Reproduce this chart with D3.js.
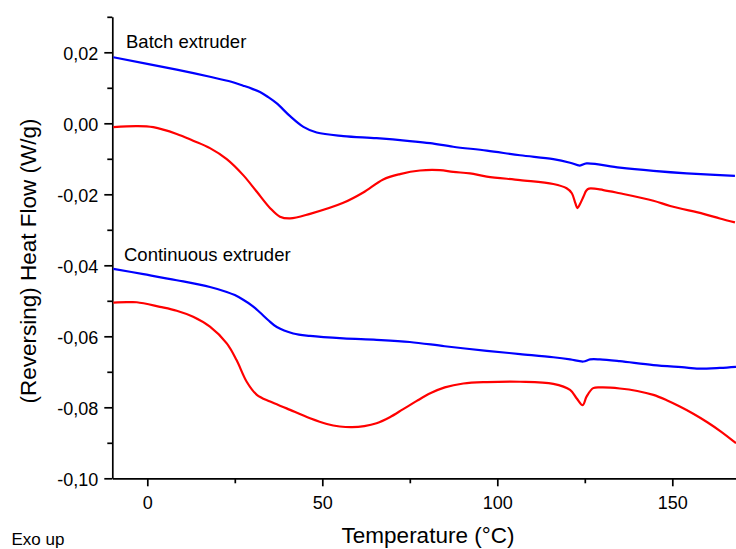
<!DOCTYPE html>
<html>
<head>
<meta charset="utf-8">
<script src="https://cdn.jsdelivr.net/npm/d3@7"></script>
<style>
  html, body { margin: 0; padding: 0; background: #fff; }
  svg { display: block; font-family: "Liberation Sans", Arial, sans-serif; }
</style>
</head>
<body>
<svg id="chart" width="736" height="549"></svg>
<script>
// ---- Data ----
const batchBlueT  = [-9.7, 8.4, 17.9, 24.0, 27.4, 30.0, 32.2, 34.5, 37.0, 40.8, 44.6, 48.4, 56.0, 65.5, 75.0, 80.8, 87.4, 97.0, 106.5, 116.0, 120.8, 123.6, 125.5, 135.0, 144.6, 154.1, 167.9];
const batchBlueHF = [0.0186, 0.0151, 0.0131, 0.0117, 0.0106, 0.0097, 0.0088, 0.0074, 0.0056, 0.0020, -0.0010, -0.0026, -0.0036, -0.0042, -0.0050, -0.0056, -0.0066, -0.0077, -0.0090, -0.0101, -0.0111, -0.0119, -0.0113, -0.0125, -0.0134, -0.0141, -0.0148];

const batchRedT  = [-9.7, -3.0, 1.7, 8.4, 13.1, 17.9, 22.7, 27.4, 31.3, 35.1, 37.9, 40.8, 46.5, 56.0, 61.7, 67.4, 72.2, 77.9, 83.6, 87.4, 92.2, 97.0, 106.5, 116.0, 119.8, 121.3, 122.3, 122.9, 123.6, 124.6, 125.4, 126.2, 130.3, 135.0, 144.6, 149.4, 158.9, 163.6, 167.9];
const batchRedHF = [-0.0011, -0.0008, -0.0011, -0.0030, -0.0049, -0.0070, -0.0101, -0.0146, -0.0193, -0.0239, -0.0263, -0.0268, -0.0255, -0.0224, -0.0195, -0.0158, -0.0143, -0.0133, -0.0132, -0.0137, -0.0141, -0.0150, -0.0160, -0.0171, -0.0183, -0.0197, -0.0225, -0.0239, -0.0228, -0.0207, -0.0190, -0.0184, -0.0188, -0.0197, -0.0218, -0.0233, -0.0255, -0.0268, -0.0279];

const contBlueT  = [-9.7, -1.1, 8.4, 17.9, 22.7, 25.0, 27.4, 30.0, 32.2, 34.5, 37.0, 41.7, 46.5, 56.0, 65.5, 75.0, 85.0, 97.0, 106.5, 116.0, 120.8, 124.6, 126.5, 129.3, 135.0, 144.6, 154.1, 157.0, 163.6, 168.2];
const contBlueHF = [-0.0410, -0.0425, -0.0442, -0.0461, -0.0475, -0.0484, -0.0497, -0.0514, -0.0533, -0.0554, -0.0574, -0.0592, -0.0599, -0.0606, -0.0610, -0.0616, -0.0628, -0.0641, -0.0650, -0.0659, -0.0665, -0.0671, -0.0665, -0.0665, -0.0670, -0.0681, -0.0688, -0.0691, -0.0689, -0.0686];

const contRedT  = [-9.7, -5.9, -3.0, 3.6, 8.4, 13.1, 17.9, 22.7, 25.5, 28.4, 31.3, 35.1, 39.8, 46.5, 51.3, 55.0, 58.5, 62.0, 65.5, 69.3, 73.0, 77.0, 81.0, 85.0, 90.3, 97.0, 106.5, 116.0, 120.8, 122.7, 124.4, 125.5, 127.4, 130.0, 135.0, 140.0, 144.6, 148.4, 152.0, 156.0, 160.0, 164.0, 168.2];
const contRedHF = [-0.0505, -0.0504, -0.0504, -0.0517, -0.0528, -0.0545, -0.0573, -0.0620, -0.0667, -0.0728, -0.0765, -0.0784, -0.0803, -0.0831, -0.0847, -0.0854, -0.0856, -0.0853, -0.0845, -0.0828, -0.0806, -0.0782, -0.0760, -0.0744, -0.0733, -0.0729, -0.0728, -0.0734, -0.0751, -0.0775, -0.0794, -0.0770, -0.0746, -0.0744, -0.0747, -0.0754, -0.0765, -0.0780, -0.0797, -0.0818, -0.0842, -0.0869, -0.0901];

const xMajorTicks = [0, 50, 100, 150];
const xMinorTicks = [25, 75, 125];
const yMajorTicks = [0.02, 0.00, -0.02, -0.04, -0.06, -0.08, -0.10];
const yMinorTicks = [0.03, 0.01, -0.01, -0.03, -0.05, -0.07, -0.09];

const seriesNames = ["Batch extruder", "Continuous extruder"];
const xTitle = "Temperature (°C)";
const yTitle = "(Reversing) Heat Flow (W/g)";
const noteText = "Exo up";

// ---- Drawing ----
(function () {
const svg = d3.select("#chart");
const mLeft = 112.3, mRight = 742.3, mTop = 16.8, mBottom = 478.3;

const x = d3.scaleLinear().domain([-10, 170]).range([mLeft, mRight]);
const y = d3.scaleLinear().domain([-0.10, 0.03]).range([mBottom, mTop]);

const locale = d3.formatLocale({decimal: ",", thousands: ".", grouping: [3], currency: ["", ""], minus: "-"});
const fmt = locale.format(".2f");

const fontFam = '"Liberation Sans", Arial, sans-serif';

// Y axis (minor first, then major)
svg.append("g").attr("transform", `translate(${mLeft},0)`)
  .call(d3.axisLeft(y).tickValues(yMinorTicks).tickSize(5).tickFormat(""))
  .call(g => g.select(".domain").remove());
const yAx = svg.append("g").attr("transform", `translate(${mLeft},0)`)
  .call(d3.axisLeft(y).tickValues(yMajorTicks).tickSize(8).tickSizeOuter(0).tickPadding(6).tickFormat(fmt));
yAx.selectAll("text").attr("font-size", 18).attr("font-family", fontFam).attr("fill", "#000").attr("dy", "0.38em");

// X axis
svg.append("g").attr("transform", `translate(0,${mBottom})`)
  .call(d3.axisBottom(x).tickValues(xMinorTicks).tickSize(5).tickFormat(""))
  .call(g => g.select(".domain").remove());
const xAx = svg.append("g").attr("transform", `translate(0,${mBottom})`)
  .call(d3.axisBottom(x).tickValues(xMajorTicks).tickSize(8).tickSizeOuter(0).tickPadding(10).tickFormat(d3.format("d")));
xAx.selectAll("text").attr("font-size", 18).attr("font-family", fontFam).attr("fill", "#000");

svg.selectAll(".domain, .tick line").attr("stroke", "#000").attr("stroke-width", 1.7);

// Lines
const line = d3.line().x(d => x(d[0])).y(d => y(d[1])).curve(d3.curveCatmullRom.alpha(0.5));
const series = [
  {t: batchBlueT, v: batchBlueHF, c: "#0000ff"},
  {t: batchRedT,  v: batchRedHF,  c: "#ff0000"},
  {t: contBlueT,  v: contBlueHF,  c: "#0000ff"},
  {t: contRedT,   v: contRedHF,   c: "#ff0000"}
];
series.forEach(s => {
  svg.append("path")
    .datum(d3.zip(s.t, s.v))
    .attr("fill", "none")
    .attr("stroke", s.c)
    .attr("stroke-width", 2.2)
    .attr("stroke-linejoin", "round")
    .attr("d", line);
});

// Texts
svg.append("text").attr("x", 126).attr("y", 48.3).attr("font-size", 18.5).attr("font-family", fontFam).text(seriesNames[0]);
svg.append("text").attr("x", 124).attr("y", 261).attr("font-size", 18.5).attr("font-family", fontFam).text(seriesNames[1]);

svg.append("text").attr("x", 428).attr("y", 543).attr("text-anchor", "middle")
  .attr("font-size", 22.5).attr("font-family", fontFam).text(xTitle);
svg.append("text").attr("transform", "translate(36,261) rotate(-90)").attr("text-anchor", "middle")
  .attr("font-size", 22.5).attr("font-family", fontFam).text(yTitle);
svg.append("text").attr("x", 11.5).attr("y", 545).attr("font-size", 17).attr("font-family", fontFam).text(noteText);
})();
</script>
</body>
</html>
